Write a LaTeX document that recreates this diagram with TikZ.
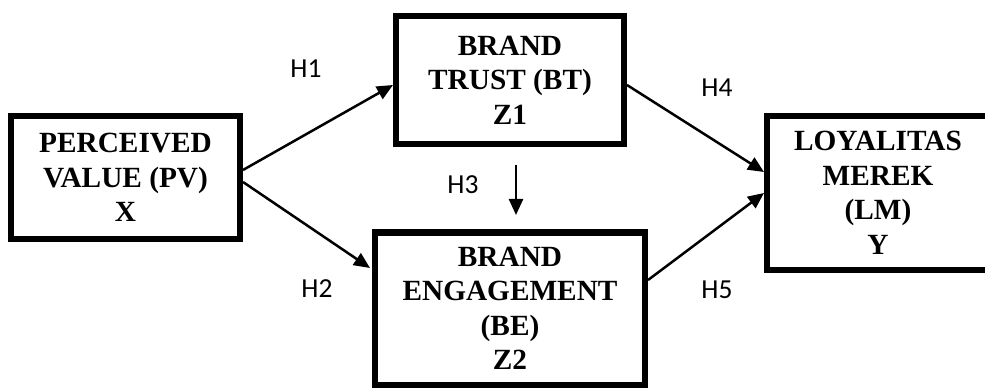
\documentclass[tikz,border=0pt]{standalone}
\usepackage{fontspec}
\setmainfont{Liberation Serif}
\newfontfamily\labelfont{Carlito}
\usetikzlibrary{arrows.meta}

\tikzset{
  varbox/.style={draw=black, line width=6pt, fill=white, align=center,
    font=\bfseries\fontsize{29.3}{34.5}\selectfont, inner sep=0pt},
  link/.style={line width=2.5pt, -{Triangle[length=16pt,width=14pt]}},
  hyp/.style={font=\labelfont\fontsize{27.5}{30}\selectfont, inner sep=0pt}
}

\begin{document}
\begin{tikzpicture}[x=1pt, y=-1pt]
  \useasboundingbox (0,0) rectangle (985,390);

  % constructs
  \node[varbox, minimum width=229pt, minimum height=123pt] (PV) at (125.5,177.5)
    {PERCEIVED\\VALUE (PV)\\X};
  \node[varbox, minimum width=228pt, minimum height=128pt] (BT) at (510,80)
    {BRAND\\TRUST (BT)\\Z1};
  \node[varbox, minimum width=270pt, minimum height=152pt] (BE) at (510,308.5)
    {BRAND\\ENGAGEMENT\\(BE)\\Z2};
  \node[varbox, minimum width=222pt, minimum height=154pt] (LM) at (878,193)
    {LOYALITAS\\MEREK\\(LM)\\Y};

  % hypothesis paths
  \draw[link] ([yshift=7.5pt]PV.east) -- ([yshift=-5pt]BT.west);
  \draw[link] ([yshift=-4.5pt]PV.east) -- ([xshift=-2pt,yshift=40.5pt]BE.west);
  \draw[link] ([yshift=-5pt]BT.east) -- ([yshift=21pt]LM.west);
  \draw[link] ([yshift=28.5pt]BE.east) -- (LM.west);
  \coordinate (h3top) at (516,165);
  \coordinate (h3end) at (516,215);
  \draw[link] (h3top) -- (h3end);

  % hypothesis labels
  \node[hyp] (lh1) at (306,69) {H1};
  \node[hyp] (lh2) at (317,289) {H2};
  \node[hyp] (lh3) at (463,185) {H3};
  \node[hyp] (lh4) at (717,88) {H4};
  \node[hyp] (lh5) at (717,290) {H5};
\end{tikzpicture}
\end{document}
